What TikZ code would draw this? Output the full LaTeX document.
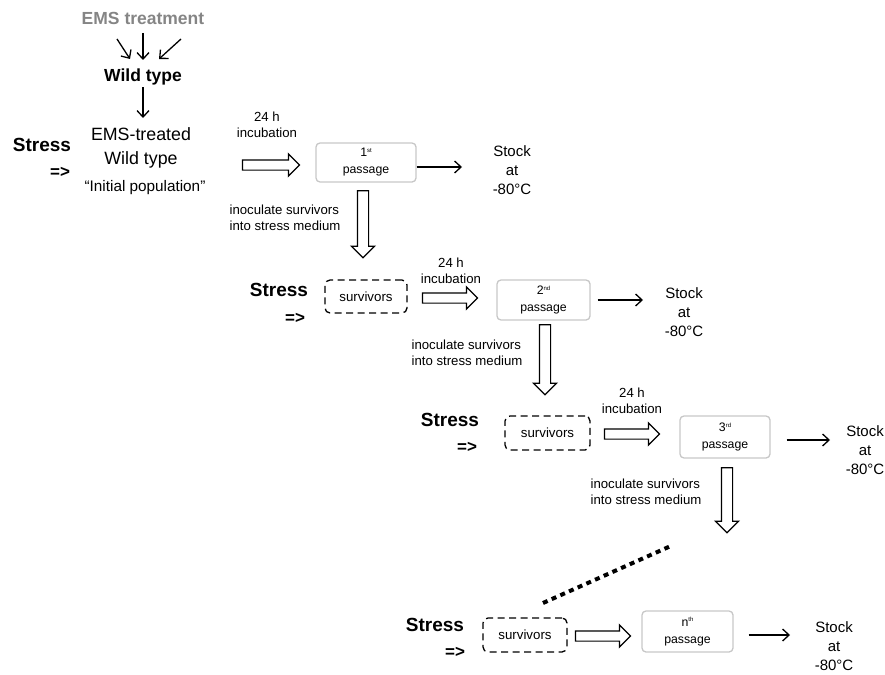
\documentclass[tikz,border=0pt]{standalone}
\usepackage{fontspec}
\setmainfont{Liberation Sans}
\usetikzlibrary{arrows.meta,shapes.arrows}
\newcommand\fsz[2]{\fontsize{#1}{#2}\selectfont}
\newcommand\supx[1]{\raisebox{4.5pt}{\fsz{6}{6}#1}}
\begin{document}
\begin{tikzpicture}[x=1pt,y=-1pt,
  lbl/.style={inner sep=0pt, align=center},
  stress/.style={lbl, font=\fsz{19}{22}\bfseries},
  impl/.style={lbl, font=\fsz{17}{18}\bfseries},
  small/.style={lbl, font=\fsz{13.2}{16.5}},
  stock/.style={lbl, font=\fsz{15}{19}},
  passage/.style={draw=black!22, line width=1.3pt, rounded corners=4pt, align=center, inner sep=0pt, font=\fsz{12.3}{17}},
  surv/.style={draw, dash pattern=on 7pt off 4.5pt, line width=1.3pt, rounded corners=5pt, inner sep=0pt, font=\fsz{13.3}{14}},
  arr/.style={line width=1.3pt, -{Straight Barb[length=6.5pt,width=12pt]}},
  hollow/.style={draw, line width=1.2pt, single arrow, inner sep=0pt, inner ysep=4.5pt, single arrow head extend=6pt, single arrow head indent=0pt},
  vhollow/.style={draw, line width=1.2pt, single arrow, inner sep=0pt, inner xsep=5pt, single arrow head extend=6pt, single arrow head indent=0pt, shape border rotate=270}
]
\useasboundingbox (0,0) rectangle (885,674);

% top part
\node[lbl, font=\fsz{17.5}{18}\bfseries, text=black!48] (ems) at (143,18) {EMS treatment};
\node[lbl, font=\fsz{17.5}{18}\bfseries] (wt) at (143,77) {Wild type};
\coordinate (e1) at (117,39); \coordinate (e1t) at (130,59);
\coordinate (e2) at (143,33); \coordinate (e2t) at (143,60);
\coordinate (e3) at (181,39); \coordinate (e3t) at (159,59);
\draw[arr] (e1) -- (e1t);
\draw[arr] (e2) -- (e2t);
\draw[arr] (e3) -- (e3t);
\node[lbl, font=\fsz{17.8}{24}] (emst) at (141,148) {EMS-treated\\Wild type};
\coordinate (wtend) at (143,118);
\draw[arr] (wt.south) ++(0,2) -- (wtend);
\node[lbl, font=\fsz{15.3}{16}] (init) at (145,188) {``Initial population''};
\node[stress] (st1) at (42,145) {Stress};
\node[impl] (im1) at (60,172) {=>};

% row 1
\node[small] (inc1) at (267,125) {24 h\\incubation};
\node[hollow, minimum height=57pt, minimum width=21pt] (h1) at (268.5,165) {};
\node[passage, minimum width=100pt, minimum height=39pt] (p1) at (366,162.5) {1\supx{st}\\passage};
\node[stock] (s1) at (512,170) {Stock\\at\\-80\textdegree C};
\coordinate (a1) at (462,167);
\draw[arr] (p1.east |- a1) -- (a1);
\node[small, align=left] (in1) at (285,218) {inoculate survivors\\into stress medium};
\node[vhollow, minimum height=67pt, minimum width=21pt] (v1) at (363,221.5) {};

% row 2
\node[stress] (st2) at (279,290) {Stress};
\node[impl] (im2) at (295,318) {=>};
\node[surv, minimum width=82pt, minimum height=33pt] (sv2) at (366,296.5) {survivors};
\node[small] (inc2) at (451,271) {24 h\\incubation};
\node[hollow, minimum height=55pt, minimum width=21pt] (h2) at (447.5,298) {};
\node[passage, minimum width=93pt, minimum height=40pt] (p2) at (543.5,300) {2\supx{nd}\\passage};
\node[stock] (s2) at (684,312) {Stock\\at\\-80\textdegree C};
\coordinate (a2) at (643,300);
\draw[arr] (p2.east |- a2) ++(7,0) -- (a2);
\node[small, align=left] (in2) at (467,353) {inoculate survivors\\into stress medium};
\node[vhollow, minimum height=70pt, minimum width=21pt] (v2) at (545,357) {};

% row 3
\node[stress] (st3) at (450,420) {Stress};
\node[impl] (im3) at (467,447) {=>};
\node[surv, minimum width=85pt, minimum height=34pt] (sv3) at (547.5,433) {survivors};
\node[small] (inc3) at (632,401) {24 h\\incubation};
\node[hollow, minimum height=55pt, minimum width=21pt] (h3) at (629.5,434) {};
\node[passage, minimum width=90pt, minimum height=42pt] (p3) at (725,437) {3\supx{rd}\\passage};
\node[stock] (s3) at (865,450) {Stock\\at\\-80\textdegree C};
\coordinate (a3) at (830,440);
\draw[arr] (p3.east |- a3) ++(16,0) -- (a3);
\node[small, align=left] (in3) at (646,492) {inoculate survivors\\into stress medium};
\node[vhollow, minimum height=65pt, minimum width=21pt] (v3) at (727,497.5) {};

% dots
\coordinate (d1) at (543,603);
\coordinate (d2) at (673,545);
\draw[line width=4pt, dash pattern=on 5pt off 4.5pt] (d1) -- (d2);

% row n
\node[stress] (st4) at (435,625) {Stress};
\node[impl] (im4) at (455,652) {=>};
\node[surv, minimum width=84pt, minimum height=34pt] (sv4) at (525,635) {survivors};
\node[hollow, minimum height=55pt, minimum width=21pt] (h4) at (600.5,636) {};
\node[passage, minimum width=91pt, minimum height=41pt] (p4) at (687.5,631.5) {n\supx{th}\\passage};
\node[stock] (s4) at (834,646) {Stock\\at\\-80\textdegree C};
\coordinate (a4) at (790,635);
\draw[arr] (p4.east |- a4) ++(15,0) -- (a4);
\end{tikzpicture}
\end{document}
